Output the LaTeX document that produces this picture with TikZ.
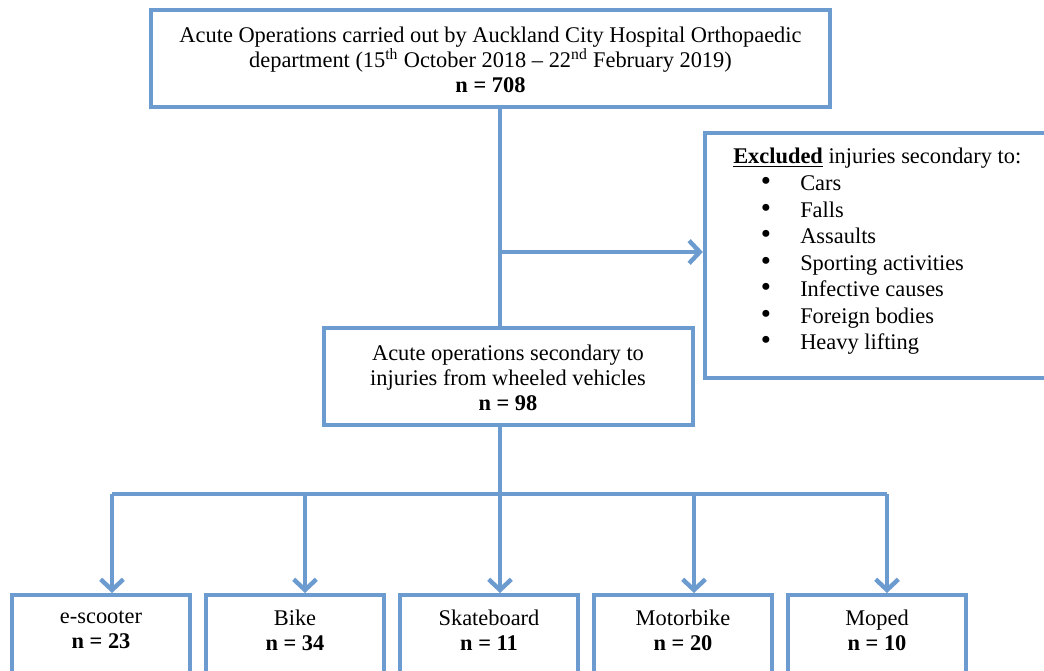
\documentclass[tikz,border=0pt]{standalone}
\usepackage{fontspec}
\setmainfont{Liberation Serif}
\usetikzlibrary{arrows.meta}
\definecolor{flowblue}{RGB}{108,155,208}

\begin{document}
\begin{tikzpicture}[x=0.75pt, y=-0.75pt,
		frame/.style={draw=flowblue, line width=3.3pt, inner sep=0pt},
		txt/.style={align=center, font=\fontsize{16.8}{18.75}\selectfont},
		link/.style={flowblue, line width=3.3pt},
		arr/.style={link, -{Straight Barb[length=8pt, width=17pt, line width=3.3pt]}}]
	\useasboundingbox (0,0) rectangle (1044,670);
	\clip (0,0) rectangle (1044,670);
	\fill[white] (0,0) rectangle (1044,670);
	
	% Prostokaty
	\node[frame, minimum width=509.25pt, minimum height=72.75pt] (top) at (490.5,58.5) {};
	\node[frame, minimum width=273.75pt, minimum height=183.75pt] (excl) at (887.5,255.5) {};
	\node[frame, minimum width=276.75pt, minimum height=72.75pt] (mid) at (508.5,376.5) {};
	\node[frame, anchor=north, minimum width=133.5pt, minimum height=90pt] (scoot) at (101,593) {};
	\node[frame, anchor=north, minimum width=133.5pt, minimum height=90pt] (bike) at (295,593) {};
	\node[frame, anchor=north, minimum width=133.5pt, minimum height=90pt] (skate) at (489,593) {};
	\node[frame, anchor=north, minimum width=133.5pt, minimum height=90pt] (motor) at (683,593) {};
	\node[frame, anchor=north, minimum width=133.5pt, minimum height=90pt] (moped) at (877,593) {};
	
	% Teksty
	\node[txt] (toptxt) at (490.5,60) {Acute Operations carried out by Auckland City Hospital Orthopaedic\\
		department (15\textsuperscript{th} October 2018 – 22\textsuperscript{nd} February 2019)\\
		\textbf{n = 708}};
	\node[txt] (midtxt) at (508,378) {Acute operations secondary to\\injuries from wheeled vehicles\\\textbf{n = 98}};
	\node[txt] (scoottxt) at (101,630) {e-scooter\\\textbf{n = 23}};
	\node[txt] (biketxt) at (295,630) {Bike\\\textbf{n = 34}};
	\node[txt] (skatetxt) at (489,630) {Skateboard\\\textbf{n = 11}};
	\node[txt] (motortxt) at (683,630) {Motorbike\\\textbf{n = 20}};
	\node[txt] (mopedtxt) at (877,630) {Moped\\\textbf{n = 10}};
	
	% Wykluczone
	\node[txt, anchor=base west, inner sep=0pt] (exhead) at (733,164) {\underline{\textbf{Excluded}} injuries secondary to:};
	\foreach \cause [count=\i] in {Cars, Falls, Assaults, Sporting activities, Infective causes, Foreign bodies, Heavy lifting} {
		\node[txt, anchor=base, scale=1.3] (dot\i) at (766,{164+26.5*\i}) {•};
		\node[txt, anchor=base west, inner sep=0pt] (ex\i) at (800,{164+26.5*\i}) {\cause};
	}
	
	% Linie i strzalki
	\coordinate (stem) at (500,0);
	\coordinate (split) at (500,252);
	\coordinate (bus) at (500,494);
	\coordinate (busL) at (112,494);
	\coordinate (busR) at (887,494);
	\draw[link] (top.south -| stem) -- (mid.north -| stem);
	\draw[arr] (split) -- (excl.west |- split);
	\draw[link] (mid.south -| stem) -- (bus);
	\draw[link] (busL) -- (busR);
	\draw[arr] (busL) -- (scoot.north -| busL);
	\draw[arr] (305,494) -- (bike.north -| 305,0);
	\draw[arr] (bus) -- (skate.north -| bus);
	\draw[arr] (694,494) -- (motor.north -| 694,0);
	\draw[arr] (busR) -- (moped.north -| busR);
\end{tikzpicture}
\end{document}
